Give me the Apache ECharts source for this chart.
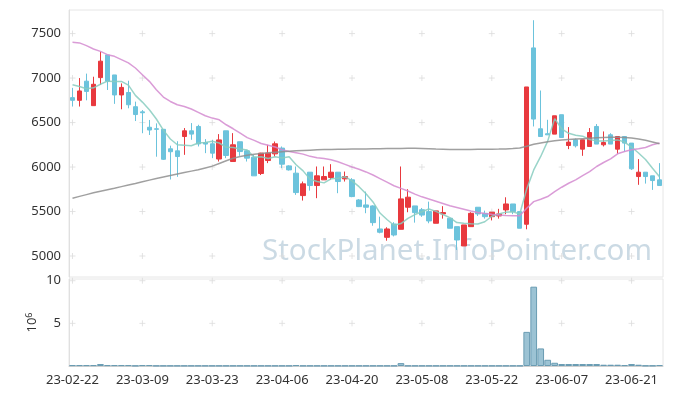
<!DOCTYPE html>
<html><head><meta charset="utf-8">
<script src="https://cdn.jsdelivr.net/npm/echarts@6/dist/echarts.min.js"></script>
<style>html,body{margin:0;padding:0;background:#fff}#c{width:673px;height:396px}</style>
</head><body><div id="c"></div>
<script>
const dates = ["23-02-22","23-02-23","23-02-24","23-02-27","23-02-28","23-03-02","23-03-03","23-03-06","23-03-07","23-03-08",
"23-03-09","23-03-10","23-03-13","23-03-14","23-03-15","23-03-16","23-03-17","23-03-20","23-03-21","23-03-22",
"23-03-23","23-03-24","23-03-27","23-03-28","23-03-29","23-03-30","23-03-31","23-04-03","23-04-04","23-04-05",
"23-04-06","23-04-07","23-04-10","23-04-11","23-04-12","23-04-13","23-04-14","23-04-17","23-04-18","23-04-19",
"23-04-20","23-04-21","23-04-24","23-04-25","23-04-26","23-04-27","23-04-28","23-05-02","23-05-03","23-05-04",
"23-05-08","23-05-09","23-05-10","23-05-11","23-05-12","23-05-15","23-05-16","23-05-17","23-05-18","23-05-19",
"23-05-22","23-05-23","23-05-24","23-05-25","23-05-26","23-05-30","23-05-31","23-06-01","23-06-02","23-06-05",
"23-06-07","23-06-08","23-06-09","23-06-12","23-06-13","23-06-14","23-06-15","23-06-16","23-06-19","23-06-20",
"23-06-21","23-06-22","23-06-23","23-06-26","23-06-27"];
const opens = [6780,6750,6965,6690,7005,7260,7035,6810,6838,6678,
6620,6447,6430,6424,6205,6182,6343,6407,6456,6276,
6261,6090,6407,6062,6284,6182,6111,5927,6073,6148,
6213,6013,5931,5679,5942,5792,5856,5882,5942,5867,
5856,5630,5574,5563,5304,5210,5360,5300,5548,5563,
5520,5499,5368,5473,5424,5330,5113,5330,5548,5480,
5442,5450,5518,5585,5499,5357,7339,6430,6374,6370,
6588,6242,6306,6201,6231,6456,6250,6362,6201,6343,
6269,5893,5942,5901,5856];
const closes = [6750,6855,6850,6930,7190,6965,6810,6895,6700,6590,
6610,6416,6424,6087,6172,6118,6407,6370,6260,6258,
6156,6305,6130,6250,6174,6100,5901,6156,6156,6261,
6032,5968,5713,5811,5792,5901,5893,5942,5837,5893,
5668,5555,5548,5375,5267,5304,5236,5642,5661,5488,
5460,5394,5507,5488,5312,5180,5349,5480,5473,5442,
5492,5473,5585,5499,5312,6900,6539,6343,6362,6576,
6332,6280,6239,6306,6388,6258,6276,6258,6343,6269,
5980,5942,5893,5848,5792];
const lows = [6680,6680,6750,6690,6922,6866,6710,6649,6660,6517,
6380,6360,6116,6079,5860,5890,6137,6306,6231,6156,
6100,6062,6100,6062,6126,6062,5901,5910,6044,6118,
5987,5960,5687,5623,5735,5650,5856,5856,5706,5837,
5661,5550,5481,5340,5255,5172,5220,5300,5492,5375,
5440,5368,5368,5420,5312,5068,5113,5330,5450,5420,
5400,5420,5470,5470,5312,5300,6456,6343,6362,6370,
6332,6201,6220,6126,6231,6258,6231,6258,6149,6174,
5968,5800,5814,5743,5792];
const highs = [6890,7000,7050,7015,7297,7260,7035,6940,6970,6735,
6640,6529,6491,6424,6240,6290,6438,6494,6475,6314,
6306,6370,6407,6381,6284,6193,6137,6160,6250,6287,
6231,6020,6006,5837,5942,6006,6006,6032,5942,5949,
5875,5640,5724,5570,5442,5323,5380,6006,5751,5563,
5540,5611,5507,5560,5424,5330,5349,5492,5548,5510,
5492,5530,5660,5585,5499,6900,7650,6860,6531,6576,
6588,6449,6320,6306,6438,6483,6400,6380,6343,6343,
6269,6089,5942,5901,6044];
const ma5 = [6925,6905,6880,6890,6930,6965,6960,6962,6920,6805,
6730,6643,6540,6415,6315,6250,6245,6240,6270,6275,
6290,6270,6222,6220,6203,6192,6111,6116,6097,6115,
6101,6115,6026,5957,5863,5837,5822,5868,5873,5891,
5844,5779,5700,5608,5483,5410,5346,5365,5422,5466,
5497,5529,5502,5467,5432,5376,5367,5362,5359,5385,
5447,5472,5493,5498,5472,5754,5967,6119,6291,6544,
6430,6379,6358,6347,6309,6294,6293,6297,6305,6281,
6225,6158,6085,5986,5891];
const ma20 = [7402,7395,7365,7327,7300,7263,7244,7207,7170,7113,
7038,6963,6869,6787,6737,6700,6681,6652,6614,6576,
6550,6531,6475,6430,6380,6330,6300,6265,6245,6225,
6194,6175,6160,6145,6120,6105,6095,6082,6060,6030,
6000,5975,5945,5910,5870,5830,5790,5760,5730,5695,
5665,5640,5615,5590,5565,5545,5525,5505,5490,5478,
5468,5460,5455,5452,5453,5537,5611,5638,5668,5724,
5773,5818,5856,5904,5949,6006,6051,6092,6149,6174,
6194,6205,6220,6250,6269];
const ma60 = [5650,5670,5690,5710,5728,5745,5762,5780,5798,5816,
5835,5853,5871,5889,5906,5922,5938,5954,5970,5990,
6010,6040,6070,6098,6118,6132,6143,6152,6160,6166,
6172,6177,6182,6186,6190,6193,6196,6198,6200,6201,
6202,6203,6204,6205,6206,6207,6208,6209,6210,6210,
6208,6205,6202,6200,6198,6197,6197,6198,6199,6200,
6201,6202,6204,6208,6214,6234,6256,6271,6284,6295,
6303,6309,6314,6319,6324,6329,6333,6335,6336,6332,
6326,6314,6300,6282,6262];
const volumes = [0.1,0.1,0.1,0.1,0.23,0.1,0.1,0.1,0.1,0.04,
0.1,0.1,0.04,0.04,0.04,0.04,0.04,0.04,0.04,0.04,
0.04,0.04,0.04,0.04,0.04,0.04,0.04,0.04,0.04,0.04,
0.04,0.04,0.1,0.04,0.04,0.04,0.04,0.04,0.04,0.04,
0.04,0.04,0.04,0.04,0.04,0.04,0.04,0.34,0.04,0.04,
0.04,0.04,0.04,0.04,0.04,0.04,0.04,0.04,0.04,0.04,
0.04,0.04,0.04,0.04,0.04,4.0,9.3,2.06,0.73,0.38,
0.23,0.23,0.23,0.23,0.23,0.23,0.15,0.15,0.15,0.1,
0.23,0.15,0.05,0.05,0.11];
const priceTicks = [5000,5500,6000,6500,7000,7500];
const volTicks = [5,10];
const labelEvery = 10;

const candleData = dates.map((d,i)=>[opens[i],closes[i],lows[i],highs[i]]);
const tickCats = dates.map((d,i)=>i).filter(i=>i%labelEvery===0);
const crossP = [], crossV = [];
tickCats.forEach(c=>{priceTicks.forEach(p=>crossP.push([c,p])); volTicks.forEach(v=>crossV.push([c,v]));});

const FONT = 'Noto Sans';
const chart = echarts.init(document.getElementById('c'));
const crossStyle = {color:'rgba(0,0,0,0)', borderColor:'#dcdcdc', borderWidth:1};
const plain = v => String(v);
chart.setOption({
  animation:false,
  textStyle:{fontFamily:FONT},
  grid:[
    {left:69, right:10, top:10, height:267, show:true, borderColor:'#e6e6e6', borderWidth:1},
    {left:69, right:10, top:279, height:87, show:true, borderColor:'#e6e6e6', borderWidth:1}
  ],
  xAxis:[
    {type:'category', data:dates, gridIndex:0, boundaryGap:true,
     axisLine:{show:false}, axisTick:{show:false}, axisLabel:{show:false}, splitLine:{show:false}},
    {type:'category', data:dates, gridIndex:1, boundaryGap:true,
     axisLine:{show:true, lineStyle:{color:'#d0d0d0'}}, axisTick:{show:false}, splitLine:{show:false},
     axisLabel:{interval:labelEvery-1, color:'#333', fontSize:13, fontFamily:FONT, margin:8}}
  ],
  yAxis:[
    {type:'value', gridIndex:0, min:4764, max:7765, scale:true,
     axisLine:{show:true, lineStyle:{color:'#e0e0e0'}}, axisTick:{show:false}, splitLine:{show:false},
     axisLabel:{customValues:priceTicks, formatter:plain, color:'#333', fontSize:13, fontFamily:FONT, margin:8}},
    {type:'value', gridIndex:1, min:0, max:10.2,
     name:'10{s|6}', nameLocation:'middle', nameRotate:90, nameGap:29, nameMoveOverlap:false,
     nameTextStyle:{color:'#333', fontSize:13, fontFamily:FONT, rich:{s:{fontSize:9, verticalAlign:'top', padding:[0,0,6,0]}}},
     axisLine:{show:true, lineStyle:{color:'#e0e0e0'}}, axisTick:{show:false}, splitLine:{show:false},
     axisLabel:{customValues:volTicks, formatter:plain, color:'#333', fontSize:13, fontFamily:FONT, margin:8}}
  ],
  graphic:[{type:'text', left:262, top:237, z:0, silent:true,
    style:{text:'StockPlanet.InfoPointer.com', fontSize:29.5, fontFamily:FONT, fill:'rgba(160,188,205,0.55)'}}],
  series:[
    {type:'scatter', xAxisIndex:0, yAxisIndex:0, data:crossP, symbol:'path://M5,0V10M0,5H10', symbolSize:6, silent:true, z:1, itemStyle:crossStyle},
    {type:'scatter', xAxisIndex:1, yAxisIndex:1, data:crossV, symbol:'path://M5,0V10M0,5H10', symbolSize:6, silent:true, z:1, itemStyle:crossStyle},
    {type:'candlestick', xAxisIndex:0, yAxisIndex:0, data:candleData, barWidth:5, z:3,
     itemStyle:{color:'#e8393e', color0:'#6cc3dc', borderColor:'#e8393e', borderColor0:'#6cc3dc', borderWidth:1}},
    {type:'line', xAxisIndex:0, yAxisIndex:0, data:ma5, showSymbol:false, z:4, lineStyle:{color:'#87ccc0', width:1.5, opacity:0.85}},
    {type:'line', xAxisIndex:0, yAxisIndex:0, data:ma20, showSymbol:false, z:4, lineStyle:{color:'#d38bd0', width:1.5, opacity:0.85}},
    {type:'line', xAxisIndex:0, yAxisIndex:0, data:ma60, showSymbol:false, z:4, lineStyle:{color:'#8f8f8f', width:1.5, opacity:0.85}},
    {type:'bar', xAxisIndex:1, yAxisIndex:1, data:volumes, barCategoryGap:'4%', z:3,
     itemStyle:{color:'#9cc3d4', borderColor:'#6a9cb3', borderWidth:1}}
  ]
});
</script></body></html>
